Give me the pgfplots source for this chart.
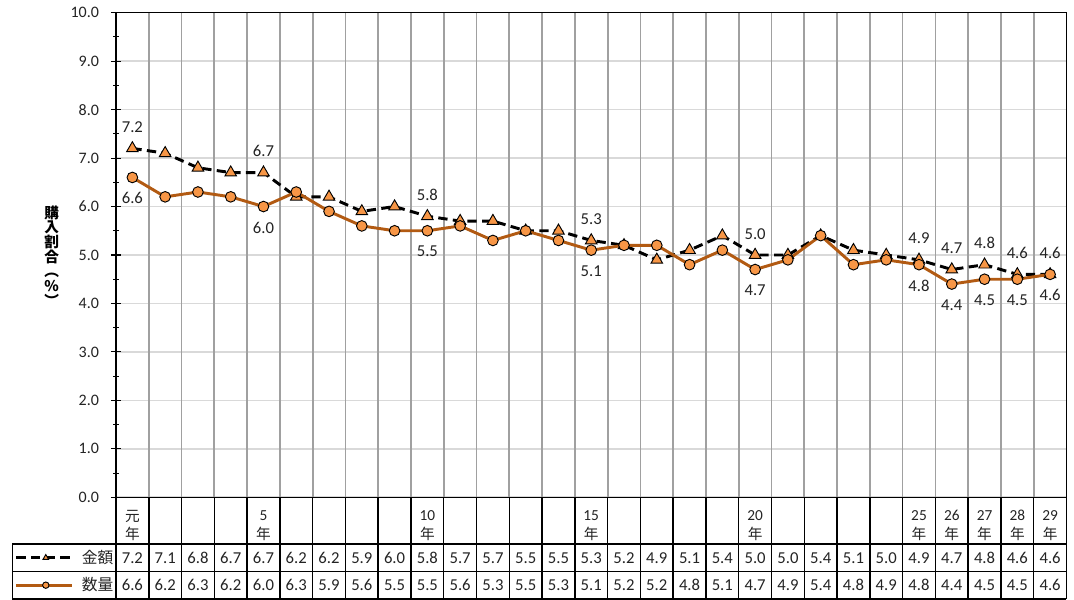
\documentclass[border=0pt]{standalone}
\usepackage{fontspec}
\setmainfont{Carlito}
\newfontfamily\cjk{Noto Sans CJK JP}
\usepackage{pgfplots}
\usepackage{pgfplotstable}
\pgfplotsset{compat=1.18}
\definecolor{mkfill}{RGB}{247,150,70}
\definecolor{brownline}{RGB}{178,90,18}
\definecolor{hgrid}{RGB}{217,217,217}
\definecolor{vgrid}{RGB}{160,160,160}
\definecolor{txt}{RGB}{35,35,35}
\newcommand\nen{{\cjk\fontsize{11}{14}\selectfont 年}}

\pgfplotstableread{
x amt qty al ql
1 7.2 6.6 7.2 6.6
2 7.1 6.2 {} {}
3 6.8 6.3 {} {}
4 6.7 6.2 {} {}
5 6.7 6.0 6.7 6.0
6 6.2 6.3 {} {}
7 6.2 5.9 {} {}
8 5.9 5.6 {} {}
9 6.0 5.5 {} {}
10 5.8 5.5 5.8 5.5
11 5.7 5.6 {} {}
12 5.7 5.3 {} {}
13 5.5 5.5 {} {}
14 5.5 5.3 {} {}
15 5.3 5.1 5.3 5.1
16 5.2 5.2 {} {}
17 4.9 5.2 {} {}
18 5.1 4.8 {} {}
19 5.4 5.1 {} {}
20 5.0 4.7 5.0 4.7
21 5.0 4.9 {} {}
22 5.4 5.4 {} {}
23 5.1 4.8 {} {}
24 5.0 4.9 {} {}
25 4.9 4.8 4.9 4.8
26 4.7 4.4 4.7 4.4
27 4.8 4.5 4.8 4.5
28 4.6 4.5 4.6 4.5
29 4.6 4.6 4.6 4.6
}\data

\begin{document}
\begin{tikzpicture}
\begin{axis}[
  scale only axis, width=712.9pt, height=363.45pt,
  xmin=0.5, xmax=29.5, ymin=0, ymax=10,
  clip=false,
  axis line style={line width=1.1pt, black},
  xtick={1,...,29},
  xticklabels={{{\cjk\fontsize{11}{14}\selectfont 元}\\\nen},{},{},{},{5\\\nen},{},{},{},{},{10\\\nen},{},{},{},{},{15\\\nen},{},{},{},{},{20\\\nen},{},{},{},{},{25\\\nen},{26\\\nen},{27\\\nen},{28\\\nen},{29\\\nen}},
  xtick style={draw=none},
  xticklabel style={align=center, anchor=center, yshift=-17.4pt, font=\fontsize{11.5}{14}\selectfont, text=txt},
  ytick={0,1,...,10}, minor y tick num=1,
  ytick pos=left,
  tick align=center,
  major tick length=7.5pt, minor tick length=4pt,
  ytick style={line width=0.8pt, black},
  minor y tick style={line width=0.8pt, black},
  ymajorgrids, major y grid style={hgrid, line width=1.2pt},
  yticklabel style={font=\fontsize{12}{13}\selectfont, text=txt, xshift=-5.5pt,
    /pgf/number format/fixed, /pgf/number format/fixed zerofill,
    /pgf/number format/precision=1, /pgf/number format/assume math mode=true},
  ylabel={購\\入\\割\\合\\︵\\\%\\︶},
  every axis y label/.style={at={(axis description cs:-0.0677,0.498)}, anchor=center, align=center, font=\cjk\bfseries\fontsize{11}{11}\selectfont},
  legend image code/.code={\draw[mark repeat=2,mark phase=2,#1] plot coordinates {(0pt,0pt) (22pt,0pt) (42pt,0pt)};},
  legend image post style={mark size=2.4pt},
  legend cell align=left,
  legend style={at={(axis cs:-2.581,-0.9637)}, anchor=north west, draw=none, fill=none,
    inner sep=0pt, outer sep=0pt, row sep=0pt, column sep=6pt,
    nodes={inner sep=0pt, minimum height=20.6pt, font=\cjk\fontsize{11.8}{13}\selectfont, text=txt}},
]
% bounding box of the whole picture
\path (axis cs:-3.039,10.262) rectangle (axis cs:29.729,-2.119);
% vertical separators
\pgfplotsinvokeforeach{1,...,28}{
  \draw[vgrid, line width=1.3pt] (axis cs:#1.5,0) -- (axis cs:#1.5,10);
}
\pgfplotsinvokeforeach{0,...,29}{
  \draw[black, line width=1.1pt] (axis cs:#1.5,0) -- (axis cs:#1.5,-2.0986);
}
\draw[black, line width=1.1pt] (axis cs:-2.663,-0.9637) -- (axis cs:29.5,-0.9637);
\draw[black, line width=1.1pt] (axis cs:-2.663,-1.535) -- (axis cs:29.5,-1.535);
\draw[black, line width=1.1pt] (axis cs:-2.663,-2.0986) -- (axis cs:29.5,-2.0986);
\draw[black, line width=1.1pt] (axis cs:-2.663,-0.9637) -- (axis cs:-2.663,-2.0986);

\addplot[black, line width=2.2pt, dash pattern=on 7pt off 4pt, mark=triangle*, mark size=5pt,
  mark options={solid, fill=mkfill, draw=black, line width=0.7pt}] table[x=x, y=amt]{\data};
\addlegendentry{金額}
\addplot[brownline, line width=2.2pt, mark=*, mark size=4pt,
  mark options={fill=mkfill, draw=black, line width=0.7pt}] table[x=x, y=qty]{\data};
\addlegendentry{数量}

% data labels
\addplot[forget plot, draw=none, mark=none, nodes near coords, point meta=explicit symbolic,
  every node near coord/.append style={anchor=center, yshift=16pt, font=\fontsize{12.5}{14}\selectfont, text=txt}]
  table[x=x, y=amt, meta=al]{\data};
\addplot[forget plot, draw=none, mark=none, nodes near coords, point meta=explicit symbolic,
  every node near coord/.append style={anchor=center, yshift=-15.7pt, font=\fontsize{12.5}{14}\selectfont, text=txt}]
  table[x=x, y=qty, meta=ql]{\data};

% table rows
\addplot[forget plot, draw=none, mark=none, nodes near coords, point meta=explicit symbolic,
  every node near coord/.append style={anchor=center, font=\fontsize{12.5}{14}\selectfont, text=txt}]
  table[x=x, y expr=-1.2495, meta=amt]{\data};
\addplot[forget plot, draw=none, mark=none, nodes near coords, point meta=explicit symbolic,
  every node near coord/.append style={anchor=center, font=\fontsize{12.5}{14}\selectfont, text=txt}]
  table[x=x, y expr=-1.817, meta=qty]{\data};
\end{axis}
\end{tikzpicture}
\end{document}
